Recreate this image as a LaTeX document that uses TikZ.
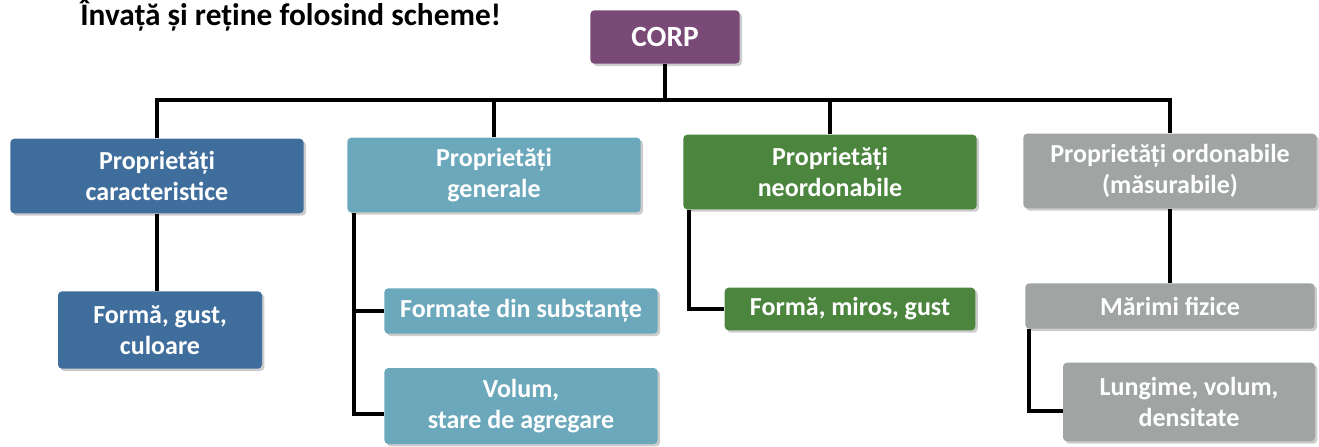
\documentclass[tikz,border=0pt]{standalone}
\usepackage{fontspec}
\setmainfont{Carlito}
\usetikzlibrary{shadows}
\definecolor{corpc}{RGB}{122,74,118}
\definecolor{carc}{RGB}{64,110,156}
\definecolor{genc}{RGB}{108,168,187}
\definecolor{neoc}{RGB}{76,134,62}
\definecolor{ordc}{RGB}{160,164,162}
\begin{document}
\begin{tikzpicture}[x=0.75pt,y=-0.75pt,
    box/.style={rounded corners=3pt,text=white,align=center,inner sep=0pt,
      font=\bfseries\fontsize{19.5}{23}\selectfont,
      drop shadow={opacity=0.4,shadow xshift=1.8pt,shadow yshift=-1.8pt}},
    line/.style={line width=3pt}]
\useasboundingbox (0,0) rectangle (1319,446);

\node[anchor=base west,inner sep=0pt,font=\bfseries\fontsize{23.5}{28}\selectfont] (title) at (80,25) {Învață și reține folosind scheme!};

\node[box,fill=corpc,minimum width=112pt,minimum height=40pt,font=\bfseries\fontsize{22}{26}\selectfont] (corp) at (665,37) {CORP};

% first row
\begin{scope}[every node/.style={box,minimum width=220pt,minimum height=56pt}]
    \node[fill=carc] (pc) at (157,176) {Proprietăți\\caracteristice};
    \node[fill=genc] (pg) at (494,175) {Proprietăți\\generale};
    \node[fill=neoc] (pn) at (830,172) {Proprietăți\\neordonabile};
    \node[fill=ordc] (po) at (1170,171) {Proprietăți ordonabile\\(măsurabile)};
\end{scope}

% second row
\node[box,fill=carc,minimum width=153pt,minimum height=58pt] (fg) at (160,330) {Formă, gust,\\culoare};
\node[box,fill=genc,minimum width=205pt,minimum height=34pt] (fs) at (521,311) {Formate din substanțe};
\node[box,fill=genc,minimum width=205pt,minimum height=57pt] (vs) at (521,406) {Volum,\\stare de agregare};
\node[box,fill=neoc,minimum width=188pt,minimum height=32pt] (fmg) at (850,309) {Formă, miros, gust};
\node[box,fill=ordc,minimum width=217pt,minimum height=34pt] (mf) at (1170,306) {Mărimi fizice};
\node[box,fill=ordc,minimum width=189pt,minimum height=59pt] (lvd) at (1189,402) {Lungime, volum,\\densitate};

\coordinate (bus) at (665,100);
\draw[line] (corp) -- (bus);
\draw[line] (pc.north) |- (bus) -| (po.north);
\draw[line] (pg.north) -- (pg.north |- bus);
\draw[line] (pn.north) -- (pn.north |- bus);

\draw[line] (pc.south) -- (pc.south |- fg.north);
\draw[line] ([xshift=5pt]pg.south west) |- (fs.west);
\draw[line] ([xshift=5pt]pg.south west) |- ([yshift=-6pt]vs.west);
\draw[line] ([xshift=4.5pt]pn.south west) |- (fmg.west);
\draw[line] (po.south) -- (mf.north);
\draw[line] ([xshift=3pt]mf.south west) |- ([yshift=-7pt]lvd.west);
\end{tikzpicture}
\end{document}
